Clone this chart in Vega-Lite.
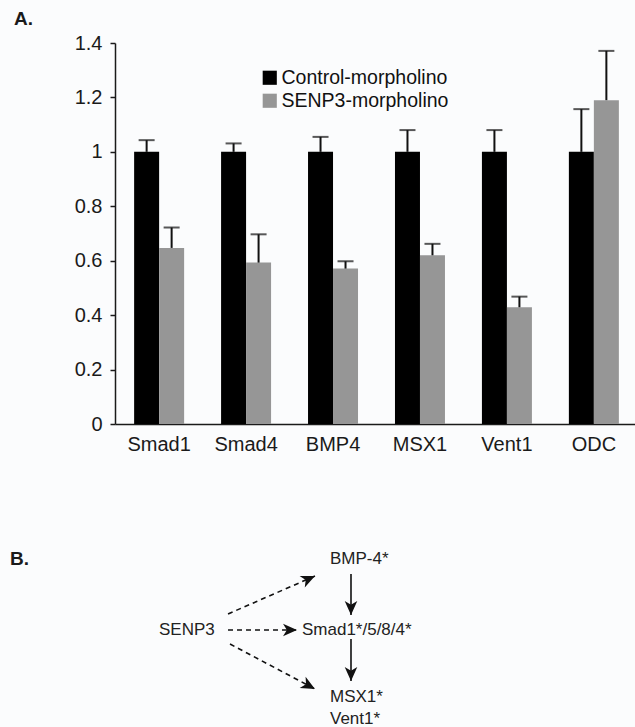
{
  "$schema": "https://vega.github.io/schema/vega-lite/v6.json",
  "background": "#fbfcfd",
  "padding": {"left": 10, "top": 10, "right": 0, "bottom": 0},
  "bounds": "flush",
  "spacing": 123,
  "config": {
    "view": {"stroke": null},
    "font": "Liberation Sans",
    "axis": {"labelFont": "Liberation Sans", "labelColor": "#1a1a1a", "domainColor": "#1a1a1a", "tickColor": "#1a1a1a", "labelFontSize": 20}
  },
  "vconcat": [
    {
      "width": 523,
      "height": 381,
      "title": {"text": "A.", "anchor": "start", "frame": "group", "dx": -101, "offset": 4, "fontSize": 19, "fontWeight": "bold", "color": "#1a1a1a", "font": "Liberation Sans"},
      "data": {
        "values": [
          {"gene": "Smad1", "group": "Control-morpholino", "value": 1.0, "upper": 1.043},
          {"gene": "Smad1", "group": "SENP3-morpholino", "value": 0.647, "upper": 0.722},
          {"gene": "Smad4", "group": "Control-morpholino", "value": 1.0, "upper": 1.031},
          {"gene": "Smad4", "group": "SENP3-morpholino", "value": 0.593, "upper": 0.697},
          {"gene": "BMP4", "group": "Control-morpholino", "value": 1.0, "upper": 1.055},
          {"gene": "BMP4", "group": "SENP3-morpholino", "value": 0.571, "upper": 0.598},
          {"gene": "MSX1", "group": "Control-morpholino", "value": 1.0, "upper": 1.08},
          {"gene": "MSX1", "group": "SENP3-morpholino", "value": 0.62, "upper": 0.662},
          {"gene": "Vent1", "group": "Control-morpholino", "value": 1.0, "upper": 1.08},
          {"gene": "Vent1", "group": "SENP3-morpholino", "value": 0.429, "upper": 0.468},
          {"gene": "ODC", "group": "Control-morpholino", "value": 1.0, "upper": 1.157},
          {"gene": "ODC", "group": "SENP3-morpholino", "value": 1.19, "upper": 1.371}
        ]
      },
      "encoding": {
        "x": {
          "field": "gene", "type": "nominal", "sort": null,
          "scale": {"paddingInner": 0.425, "paddingOuter": 0.22},
          "axis": {"title": null, "ticks": false, "labelAngle": 0, "labelFontSize": 20, "labelPadding": 10, "domainWidth": 1.5}
        },
        "xOffset": {"field": "group", "type": "nominal", "scale": {"paddingInner": 0, "paddingOuter": 0}}
      },
      "layer": [
        {
          "mark": {"type": "bar"},
          "encoding": {
            "y": {
              "field": "value", "type": "quantitative", "stack": null,
              "scale": {"domain": [0, 1.4], "nice": false},
              "axis": {"title": null, "values": [0, 0.2, 0.4, 0.6, 0.8, 1, 1.2, 1.4], "format": ".1~f", "grid": false, "tickSize": 5, "tickWidth": 1.5, "labelPadding": 8, "labelFontSize": 20, "domainWidth": 1.5}
            },
            "color": {
              "field": "group", "type": "nominal",
              "scale": {"domain": ["Control-morpholino", "SENP3-morpholino"], "range": ["#000000", "#969696"]},
              "legend": {"title": null, "orient": "none", "legendX": 145, "legendY": 25, "symbolType": "square", "symbolSize": 200, "symbolStrokeWidth": 0, "labelFontSize": 19.5, "labelFont": "Liberation Sans", "labelColor": "#111111", "labelLimit": 400, "rowPadding": 2, "labelOffset": 2}
            }
          }
        },
        {
          "mark": {"type": "rule", "color": "#111111", "strokeWidth": 2},
          "encoding": {
            "y": {"field": "value", "type": "quantitative"},
            "y2": {"field": "upper"}
          }
        },
        {
          "mark": {"type": "tick", "color": "#111111", "thickness": 2, "size": 16},
          "encoding": {
            "y": {"field": "upper", "type": "quantitative"}
          }
        }
      ]
    },
    {
      "width": 522,
      "height": 182,
      "title": {"text": "B.", "anchor": "start", "frame": "group", "dx": -105, "offset": -22, "fontSize": 19, "fontWeight": "bold", "color": "#1a1a1a", "font": "Liberation Sans"},
      "layer": [
        {
          "data": {
            "values": [
              {"x": 45.21, "y": 85.16, "x2": 45.21, "y2": 62.64, "kind": "solid", "dir": "down"},
              {"x": 45.21, "y": 49.45, "x2": 45.21, "y2": 26.37, "kind": "solid", "dir": "down"},
              {"x": 21.65, "y": 54.4, "x2": 34.87, "y2": 54.4, "kind": "dashed", "dir": "right"},
              {"x": 21.65, "y": 63.19, "x2": 38.31, "y2": 84.07, "kind": "dashed", "dir": "upright"},
              {"x": 22.03, "y": 46.7, "x2": 38.31, "y2": 21.98, "kind": "dashed", "dir": "downright"}
            ]
          },
          "layer": [
            {
              "mark": {"type": "rule", "color": "#111111", "strokeWidth": 1.6},
              "encoding": {
                "x": {"field": "x", "type": "quantitative", "scale": {"domain": [0, 100], "nice": false, "zero": false}, "axis": null},
                "y": {"field": "y", "type": "quantitative", "scale": {"domain": [0, 100], "nice": false, "zero": false}, "axis": null},
                "x2": {"field": "x2"},
                "y2": {"field": "y2"},
                "strokeDash": {"field": "kind", "type": "nominal", "scale": {"domain": ["solid", "dashed"], "range": [[1, 0], [5, 4]]}, "legend": null}
              }
            },
            {
              "transform": [{"filter": "datum.dir === 'down'"}],
              "mark": {"type": "point", "filled": true, "shape": "M0,0 L0.9,2 L0,1.45 L-0.9,2 Z", "size": 196, "angle": 180, "color": "#111111", "opacity": 1, "strokeWidth": 0},
              "encoding": {
                "x": {"field": "x2", "type": "quantitative"},
                "y": {"field": "y2", "type": "quantitative"}
              }
            },
            {
              "transform": [{"filter": "datum.dir === 'right'"}],
              "mark": {"type": "point", "filled": true, "shape": "M0,0 L0.9,2 L0,1.45 L-0.9,2 Z", "size": 196, "angle": 90, "color": "#111111", "opacity": 1, "strokeWidth": 0},
              "encoding": {
                "x": {"field": "x2", "type": "quantitative"},
                "y": {"field": "y2", "type": "quantitative"}
              }
            },
            {
              "transform": [{"filter": "datum.dir === 'upright'"}],
              "mark": {"type": "point", "filled": true, "shape": "M0,0 L0.9,2 L0,1.45 L-0.9,2 Z", "size": 196, "angle": 66, "color": "#111111", "opacity": 1, "strokeWidth": 0},
              "encoding": {
                "x": {"field": "x2", "type": "quantitative"},
                "y": {"field": "y2", "type": "quantitative"}
              }
            },
            {
              "transform": [{"filter": "datum.dir === 'downright'"}],
              "mark": {"type": "point", "filled": true, "shape": "M0,0 L0.9,2 L0,1.45 L-0.9,2 Z", "size": 196, "angle": 118, "color": "#111111", "opacity": 1, "strokeWidth": 0},
              "encoding": {
                "x": {"field": "x2", "type": "quantitative"},
                "y": {"field": "y2", "type": "quantitative"}
              }
            }
          ]
        },
        {
          "data": {
            "values": [
              {"label": "BMP-4*", "x": 41.19, "y": 93.41},
              {"label": "SENP3", "x": 8.43, "y": 54.4},
              {"label": "Smad1*/5/8/4*", "x": 35.82, "y": 54.4},
              {"label": "MSX1*", "x": 41.19, "y": 17.58},
              {"label": "Vent1*", "x": 41.19, "y": 5.49}
            ]
          },
          "mark": {"type": "text", "align": "left", "baseline": "middle", "fontSize": 17, "color": "#222222", "font": "Liberation Sans"},
          "encoding": {
            "x": {"field": "x", "type": "quantitative"},
            "y": {"field": "y", "type": "quantitative"},
            "text": {"field": "label", "type": "nominal"}
          }
        }
      ]
    }
  ]
}
